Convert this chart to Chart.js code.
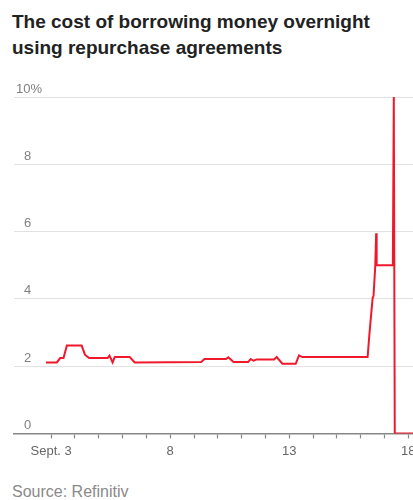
<!DOCTYPE html>
<html>
<head>
<meta charset="utf-8">
<title>Repo rate</title>
<script src="https://cdn.jsdelivr.net/npm/chart.js@4.4.1/dist/chart.umd.min.js"></script>
<style>
  html, body {
    margin: 0;
    padding: 0;
    width: 413px;
    height: 500px;
    overflow: hidden;
    background: #fff;
    font-family: "Liberation Sans", Arial, sans-serif;
  }
  .chart-title {
    position: absolute;
    left: 12px;
    top: 9px;
    font-size: 19px;
    font-weight: bold;
    line-height: 26px;
    color: #222;
  }
  .chart-source {
    position: absolute;
    left: 12px;
    top: 482px;
    font-size: 16px;
    line-height: 20px;
    color: #8a8a8a;
  }
  .chart-box {
    position: absolute;
    left: 0;
    top: 80px;
  }
</style>
</head>
<body>
<div class="chart-title">The cost of borrowing money overnight<br>using repurchase agreements</div>
<div class="chart-box"><canvas id="repoChart" width="430" height="384"></canvas></div>
<div class="chart-source">Source: Refinitiv</div>

<script>
// Time in days of September (fractions = intraday) and the overnight repo rate in %
var days = [
  2.78, 3.24, 3.38, 3.52, 3.66, 4.28, 4.42, 4.59, 5.37, 5.45,
  5.58, 5.67, 6.30, 6.51, 9.30, 9.44, 10.34, 10.44, 10.66, 11.27,
  11.38, 11.50, 11.64, 12.36, 12.47, 12.71, 13.27, 13.41, 13.55, 16.29,
  16.37, 16.50, 16.54, 16.61, 16.65, 16.67, 17.35, 17.39, 17.43, 19.5
];
var rates = [
  2.11, 2.11, 2.24, 2.24, 2.61, 2.61, 2.34, 2.24, 2.24, 2.31,
  2.11, 2.27, 2.27, 2.11, 2.12, 2.21, 2.21, 2.26, 2.12, 2.12,
  2.21, 2.16, 2.20, 2.20, 2.27, 2.07, 2.07, 2.32, 2.27, 2.27,
  2.99, 4.02, 4.10, 4.96, 5.95, 5.00, 5.00, 10.0, 0, 0
];

// Axis ticks
var dayTicks = [3, 4, 5, 6, 7, 8, 9, 10, 11, 12, 13, 14, 15, 16, 17, 18];
var dayLabels = { 3: "Sept. 3", 8: "8", 13: "13", 18: "18" };
var rateTicks = [0, 2, 4, 6, 8, 10];

document.addEventListener("DOMContentLoaded", function () {
  var points = days.map(function (d, i) {
    return { x: d, y: rates[i] };
  });

  var ctx = document.getElementById("repoChart").getContext("2d");

  new Chart(ctx, {
    type: "line",
    data: {
      datasets: [
        {
          data: points,
          borderColor: "#f0192b",
          borderWidth: 2,
          pointRadius: 0,
          tension: 0,
          fill: false,
        },
      ],
    },
    options: {
      responsive: false,
      animation: false,
      devicePixelRatio: 1,
      layout: {
        padding: { left: 10, right: 0, top: 17, bottom: 0 },
      },
      plugins: {
        legend: { display: false },
        tooltip: { enabled: false },
      },
      scales: {
        x: {
          type: "linear",
          min: 1.44,
          max: 18.91,
          afterBuildTicks: function (scale) {
            scale.ticks = dayTicks.map(function (v) {
              return { value: v };
            });
          },
          grid: {
            drawOnChartArea: false,
            drawTicks: true,
            tickLength: 5,
            tickColor: "#888",
            tickWidth: 1.2,
          },
          border: { display: true, color: "#888", width: 1.5 },
          ticks: {
            autoSkip: false,
            maxRotation: 0,
            padding: 5,
            color: "#666",
            font: { family: "'Liberation Sans', Arial, sans-serif", size: 13 },
            callback: function (value) {
              return dayLabels[value] || "";
            },
          },
        },
        y: {
          min: 0,
          max: 10,
          afterBuildTicks: function (scale) {
            scale.ticks = rateTicks.map(function (v) {
              return { value: v };
            });
          },
          grid: {
            drawTicks: false,
            color: function (c) {
              return c.tick && c.tick.value === 0 ? "rgba(0,0,0,0)" : "#e2e2e2";
            },
            lineWidth: 1,
          },
          border: { display: false },
          ticks: {
            mirror: true,
            crossAlign: "far",
            padding: 2,
            labelOffset: -8,
            color: "#808080",
            font: { family: "'Liberation Sans', Arial, sans-serif", size: 13 },
            callback: function (value) {
              // the % sign hangs to the right of the numbers
              return value === 10 ? "10%" : value + "   ";
            },
          },
        },
      },
    },
  });
});
</script>
</body>
</html>
